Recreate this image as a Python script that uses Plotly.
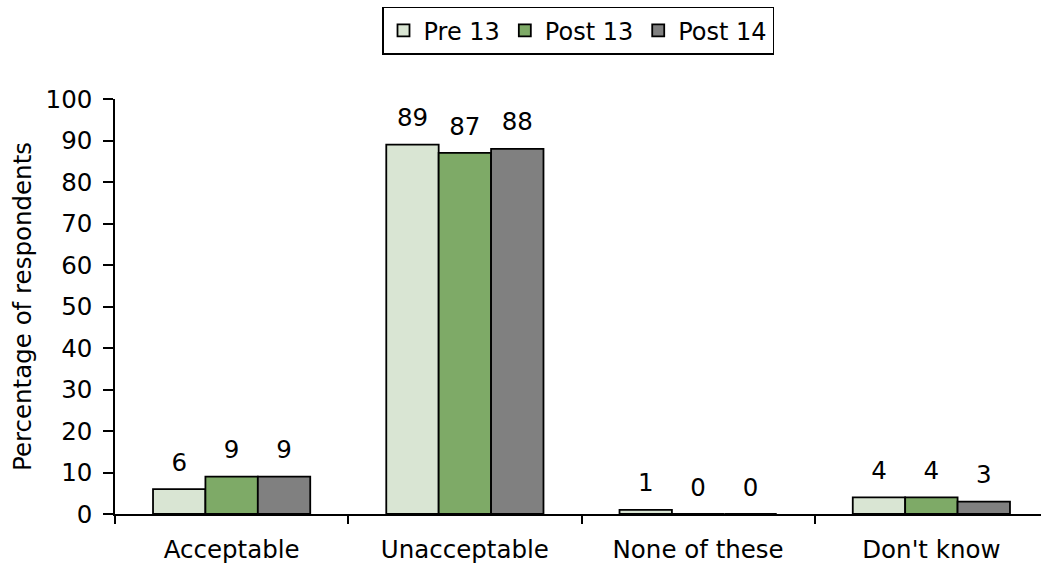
import plotly.graph_objects as go

categories = ["Acceptable", "Unacceptable", "None of these", "Don't know"]
series_names = ["Pre 13", "Post 13", "Post 14"]
pre13 = [6, 89, 1, 4]
post13 = [9, 87, 0, 4]
post14 = [9, 88, 0, 3]
colors = ["#D9E5D3", "#7EAA67", "#808080"]

FONT = "Verdana, DejaVu Sans, sans-serif"
FS = 24.5
fig = go.Figure()

for i, (name, vals) in enumerate(zip(series_names, [pre13, post13, post14])):
    fig.add_trace(go.Bar(
        x=categories, y=vals, name=name, offsetgroup=str(i),
        marker=dict(color=colors[i], line=dict(color="black", width=1.8)),
    ))

# value labels above each bar; an invisible marker lifts the text off the bar top
for i, vals in enumerate([pre13, post13, post14]):
    fig.add_trace(go.Scatter(
        x=categories, y=vals, mode="markers+text", text=[str(v) for v in vals],
        textposition="top center", offsetgroup=str(i), showlegend=False,
        marker=dict(size=18, color="rgba(0,0,0,0)"),
        textfont=dict(family=FONT, size=FS, color="black"), cliponaxis=False,
        hoverinfo="skip",
    ))

fig.update_layout(
    width=1041, height=565,
    margin=dict(l=115, r=0, t=99, b=51),
    paper_bgcolor="white", plot_bgcolor="white",
    barmode="group", bargap=0.326, bargroupgap=0,
    scattermode="group", scattergap=0.326,
    font=dict(family=FONT, size=FS, color="black"),
    legend=dict(
        orientation="h", x=0.5, xanchor="center", y=0.988, yanchor="top",
        yref="container", bordercolor="black", borderwidth=1.5,
        font=dict(family=FONT, size=24), itemwidth=30, tracegroupgap=0,
    ),
    xaxis=dict(
        range=[-0.5, 3.47], showline=True, linecolor="black", linewidth=1.5,
        ticks="outside", tickson="boundaries", ticklen=8, tickcolor="black",
        tickwidth=1.5, showgrid=False, tickfont=dict(family=FONT, size=FS),
        ticklabelstandoff=13,
    ),
    yaxis=dict(
        range=[0, 100], dtick=10, showline=True, linecolor="black", linewidth=1.5,
        ticks="outside", ticklen=10, tickcolor="black", tickwidth=1.5,
        showgrid=False, zeroline=False, tickfont=dict(family=FONT, size=FS),
        ticklabelstandoff=6,
        title=dict(text="Percentage of respondents", font=dict(family=FONT, size=FS), standoff=7),
    ),
)

fig.write_html("out.html")
